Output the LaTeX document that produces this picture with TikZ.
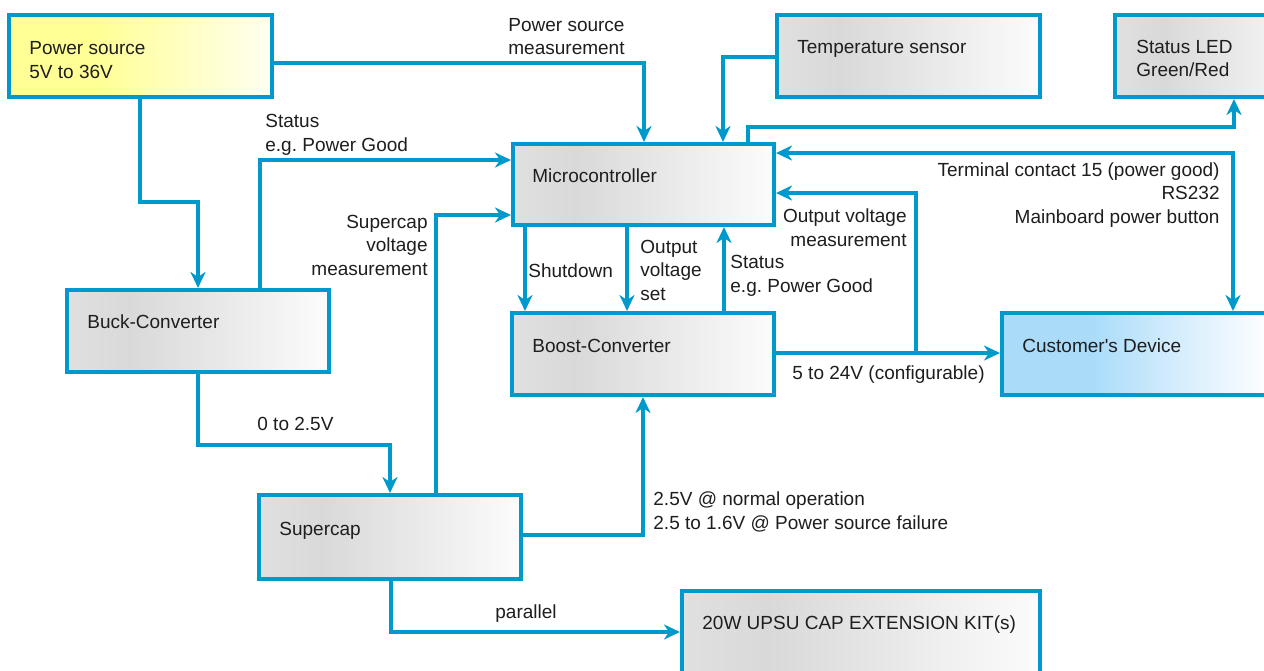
\documentclass[tikz,border=0pt]{standalone}
\usepackage{fontspec}
\setmainfont{Liberation Sans}[Ligatures=TeXOff]
\usetikzlibrary{arrows.meta}
\frenchspacing
\definecolor{cblue}{RGB}{0,153,204}
\definecolor{txt}{RGB}{30,30,30}
\definecolor{g0}{RGB}{224,224,224}
\definecolor{g1}{RGB}{217,217,217}
\definecolor{g2}{RGB}{233,233,233}
\definecolor{g3}{RGB}{252,252,252}
\definecolor{y0}{RGB}{255,255,150}
\definecolor{y1}{RGB}{255,255,200}
\definecolor{y2}{RGB}{255,255,242}
\definecolor{b0}{RGB}{170,220,250}
\definecolor{b1}{RGB}{215,238,252}
\definecolor{b2}{RGB}{250,252,255}
\pgfdeclarehorizontalshading{grayshade}{100bp}{color(0bp)=(g0); color(25bp)=(g0); color(37bp)=(g1); color(55bp)=(g2); color(75bp)=(g3); color(100bp)=(g3)}
\pgfdeclarehorizontalshading{yellowshade}{100bp}{color(0bp)=(y0); color(25bp)=(y0); color(42bp)=(y0); color(60bp)=(y1); color(75bp)=(y2); color(100bp)=(y2)}
\pgfdeclarehorizontalshading{blueshade}{100bp}{color(0bp)=(b0); color(25bp)=(b0); color(40bp)=(b0); color(55bp)=(b1); color(68bp)=(b2); color(100bp)=(b2)}
\begin{document}
\begin{tikzpicture}[x=0.5pt,y=-0.5pt,
  box/.style={draw=cblue, line width=2pt, inner sep=0pt, minimum width=131.5pt, minimum height=41pt, anchor=north west, shade, shading=grayshade},
  conn/.style={draw=cblue, line width=1.6pt, -{Stealth[length=8pt,width=7.5pt,inset=2.5pt]}},
  lbl/.style={font=\fontsize{9.5}{11.75}\selectfont\frenchspacing, inner sep=0pt, text=txt, anchor=base west, align=left},
  lblr/.style={lbl, anchor=base east, align=right}]
\clip (0,0) rectangle (1264,670);
\fill[white] (0,0) rectangle (1264,670);
% boxes
\node[box, shading=yellowshade] (power) at (7,13) {};
\node[box] (temp) at (775,13) {};
\node[box, minimum width=100pt] (led) at (1113,13) {};
\node[box, minimum width=130.5pt, minimum height=40.5pt] (micro) at (511,142) {};
\node[box, minimum width=131pt] (buck) at (65,288) {};
\node[box, minimum width=131pt] (boost) at (510,311) {};
\node[box, minimum width=150pt, shading=blueshade] (cust) at (1000,311) {};
\node[box, minimum width=131pt, minimum height=42pt] (scap) at (257,493) {};
\node[box, minimum width=179pt, minimum height=60pt] (kit) at (680,589) {};
% connectors
\draw[conn] (140,0 |- power.south) -- (140,202) -- (198,202) -- (198,0 |- buck.north);
\draw[conn] (260,0 |- buck.north) -- (260,160) -- (micro.west |- 0,160);
\draw[conn] (436,0 |- scap.north) -- (436,215) -- (micro.west |- 0,215);
\draw[conn] (power.east |- 0,63) -- (644,63) -- (644,0 |- micro.north);
\draw[conn] (temp.west |- 0,57) -- (723,57) -- (723,0 |- micro.north);
\draw[conn] (748,0 |- micro.north) -- (748,127) -- (1234,127) -- (1234,0 |- led.south);
\draw[conn, {Stealth[length=8pt,width=7.5pt,inset=2.5pt]}-{Stealth[length=8pt,width=7.5pt,inset=2.5pt]}] (micro.east |- 0,153) -- (1233,153) -- (1233,0 |- cust.north);
\coordinate (j) at (916,353);
\draw[conn] (j) -- (916,193) -- (micro.east |- 0,193);
\draw[conn] (boost.east |- 0,353) -- (cust.west |- 0,353);
\draw[conn] (525,0 |- micro.south) -- (525,0 |- boost.north);
\draw[conn] (627,0 |- micro.south) -- (627,0 |- boost.north);
\draw[conn] (724,0 |- boost.north) -- (724,0 |- micro.south);
\draw[conn] (198,0 |- buck.south) -- (198,445) -- (390,445) -- (390,0 |- scap.north);
\draw[conn] (scap.east |- 0,535) -- (643,535) -- (643,0 |- boost.south);
\draw[conn] (391,0 |- scap.south) -- (391,632) -- (kit.west |- 0,632);
% labels (base = baseline of last line)
\node[lbl] (tpow) at (29,78) {Power source\\5V to 36V};
\node[lbl] (tpsm) at (508,54.5) {Power source\\measurement};
\node[lbl] (ttemp) at (797,53) {Temperature sensor};
\node[lbl] (tled) at (1136,76.5) {Status LED\\Green/Red};
\node[lbl] (tst1) at (265,151) {Status\\e.g. Power Good};
\node[lbl] (tmc) at (532,182) {Microcontroller};
\node[lblr] (tscm) at (428,275) {Supercap\\voltage\\measurement};
\node[lbl] (tsd) at (528,277) {Shutdown};
\node[lbl] (tovs) at (640,300) {Output\\voltage\\set};
\node[lbl] (tst2) at (730,292) {Status\\e.g. Power Good};
\node[lblr] (tovm) at (907,246) {Output voltage\\measurement};
\node[lblr] (tterm) at (1220,223) {Terminal contact 15 (power good)\\RS232\\Mainboard power button};
\node[lbl] (tcust) at (1022,352) {Customer's Device};
\node[lbl] (tcfg) at (792,379) {5 to 24V (configurable)};
\node[lbl] (tboost) at (532,352) {Boost-Converter};
\node[lbl] (tbuck) at (87,328) {Buck-Converter};
\node[lbl] (t025) at (257,430) {0 to 2.5V};
\node[lbl] (tsc) at (279,535) {Supercap};
\node[lbl] (tnorm) at (653,529) {2.5V @ normal operation\\2.5 to 1.6V @ Power source failure};
\node[lbl] (tpar) at (495,618) {parallel};
\node[lbl] (tkit) at (702,629) {20W UPSU CAP EXTENSION KIT(s)};
\end{tikzpicture}
\end{document}
